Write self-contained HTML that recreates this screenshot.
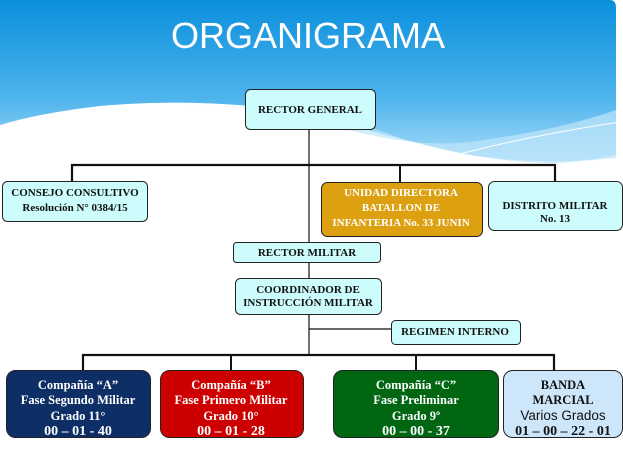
<!DOCTYPE html>
<html><head><meta charset="utf-8"><style>
html,body{margin:0;padding:0;width:623px;height:467px;overflow:hidden;background:#fff}
</style></head><body>
<svg width="623" height="467" viewBox="0 0 623 467" xmlns="http://www.w3.org/2000/svg">
<defs>
<linearGradient id="bg" x1="0" y1="0" x2="0" y2="1">
<stop offset="0" stop-color="#0a8fdc"/><stop offset="0.6" stop-color="#4db3ec"/><stop offset="1" stop-color="#a8dcf8"/>
</linearGradient>
</defs>
<rect x="0" y="0" width="623" height="467" fill="#fff"/>
<path d="M0 0 H610 Q616 0 616 8 V155 Q560 168 470 155 Q380 135 300 112 Q200 97 100 106 Q40 113 0 125 Z" fill="url(#bg)"/>
<path d="M190 108 Q300 100 400 138 Q480 163 560 163 L616 158 V110 Q560 130 470 142 Q400 150 300 115 Q250 104 190 108Z" fill="#bfe6fb" opacity="0.7"/>
<path d="M380 178 Q480 143 620 122" stroke="#fff" stroke-width="1" fill="none"/>
<path d="M370 135 Q470 162 570 188" stroke="#fff" stroke-width="1" fill="none"/>
<text x="308" y="48" text-anchor="middle" font-family="Liberation Sans, sans-serif" font-size="36" fill="#fff">ORGANIGRAMA</text>
<g stroke="#111" fill="none">
<line x1="309" y1="129" x2="309" y2="355" stroke-width="1.2"/>
<polyline points="72,181 72,165 555,165 555,181" stroke-width="2.2"/>
<line x1="400" y1="165" x2="400" y2="182" stroke-width="2"/>
<line x1="309" y1="329" x2="391" y2="329" stroke-width="1.2"/>
<polyline points="83,370 83,355 554,355 554,370" stroke-width="2.2"/>
<line x1="231" y1="355" x2="231" y2="370" stroke-width="2"/>
<line x1="416" y1="355" x2="416" y2="370" stroke-width="2"/>
</g>
<g stroke="#222" stroke-width="1">
<rect x="245.5" y="89.5" width="130" height="40" rx="5" fill="#ccfcfc"/>
<rect x="2.5" y="181.5" width="145" height="40" rx="5" fill="#ccfcfc"/>
<rect x="321.5" y="182.5" width="161" height="54" rx="6" fill="#dca010"/>
<rect x="488.5" y="181.5" width="134" height="49" rx="6" fill="#ccfcfc"/>
<rect x="233.5" y="242.5" width="147" height="20" rx="3" fill="#ccfcfc"/>
<rect x="235.5" y="278.5" width="146" height="36" rx="5" fill="#ccfcfc"/>
<rect x="391.5" y="320.5" width="129" height="24" rx="4" fill="#ccfcfc"/>
<rect x="6.5" y="370.5" width="144" height="67" rx="9" fill="#0d2f66"/>
<rect x="160.5" y="370.5" width="143" height="67" rx="9" fill="#cc0000"/>
<rect x="333.5" y="370.5" width="165" height="67" rx="9" fill="#006612"/>
<rect x="503.5" y="370.5" width="119" height="67" rx="9" fill="#cde6fa"/>
</g>
<g font-family="Liberation Serif, serif" font-weight="bold" font-size="11" text-anchor="middle" fill="#111">
<text x="310" y="113">RECTOR  GENERAL</text>
<text x="75" y="196">CONSEJO CONSULTIVO</text>
<text x="75" y="211">Resolución N° 0384/15</text>
<g fill="#fff"><text x="401" y="196">UNIDAD DIRECTORA</text>
<text x="401" y="211">BATALLON DE</text>
<text x="401" y="226">INFANTERIA No. 33 JUNIN</text></g>
<text x="555" y="209">DISTRITO MILITAR</text>
<text x="555" y="222">No. 13</text>
<text x="307" y="256">RECTOR MILITAR</text>
<text x="308" y="293">COORDINADOR DE</text>
<text x="308" y="306">INSTRUCCIÓN MILITAR</text>
<text x="455" y="335">REGIMEN INTERNO</text>
</g>
<g font-family="Liberation Serif, serif" font-weight="bold" font-size="12.5" text-anchor="middle" fill="#fff">
<text x="78" y="389">Compañía “A”</text>
<text x="78" y="404">Fase  Segundo Militar</text>
<text x="78" y="420">Grado 11°</text>
<text x="78" y="435" font-size="14">00 – 01 - 40</text>
<text x="231" y="389">Compañía “B”</text>
<text x="231" y="404">Fase Primero Militar</text>
<text x="231" y="420">Grado 10°</text>
<text x="231" y="435" font-size="14">00 – 01 - 28</text>
<text x="416" y="389">Compañía “C”</text>
<text x="416" y="404">Fase Preliminar</text>
<text x="416" y="420">Grado 9º</text>
<text x="416" y="435" font-size="14">00 – 00 - 37</text>
<g fill="#111"><text x="563" y="389">BANDA</text>
<text x="563" y="404">MARCIAL</text>
<text x="563" y="420" font-family="Liberation Sans, sans-serif" font-weight="normal" font-size="13.5">Varios Grados</text>
<text x="563" y="435" font-size="14">01 – 00 – 22 - 01</text></g>
</g>
</svg>
</body></html>
